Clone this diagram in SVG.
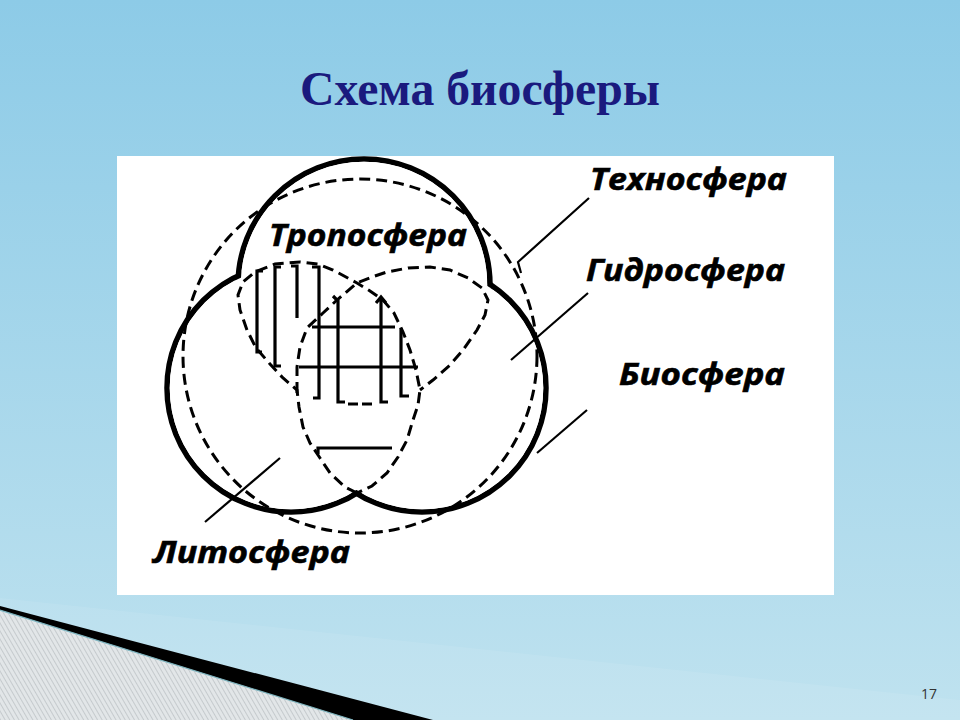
<svg xmlns="http://www.w3.org/2000/svg" width="960" height="720" viewBox="0 0 960 720">
<defs>
<linearGradient id="bg" x1="0" y1="0" x2="0" y2="1">
<stop offset="0" stop-color="#8dcbe7"/>
<stop offset="1" stop-color="#bfe2ef"/>
</linearGradient>
<pattern id="hatch" width="4" height="4" patternUnits="userSpaceOnUse" patternTransform="rotate(-30)">
<rect width="4" height="4" fill="#e2e6e8"/>
<line x1="0" y1="0" x2="0" y2="4" stroke="#a9afb3" stroke-width="1"/>
</pattern>
<style>
.thick{fill:none;stroke:#000;stroke-width:5.5}
.wfill{fill:#fff;stroke:none}
.dash{fill:none;stroke:#000;stroke-width:3;stroke-dasharray:11 6}
.grid{fill:none;stroke:#000;stroke-width:3.2}
.lead{fill:none;stroke:#000;stroke-width:2.2}
.lbl{font-family:"Open Sans",Roboto,"Liberation Sans",sans-serif;font-style:italic;font-weight:bold;font-size:30px;fill:#000;stroke:#000;stroke-width:0.6}
</style>
</defs>
<rect width="960" height="720" fill="url(#bg)"/>
<polygon points="0,598 960,700 960,720 0,720" fill="#ffffff" opacity="0.08"/>
<polygon points="0,606 433,720 353,720 0,610" fill="#000"/>
<polygon points="0,611 353,720 0,720" fill="url(#hatch)"/>
<line x1="0" y1="610" x2="353" y2="720" stroke="#7fb3bd" stroke-width="1.2"/>
<text x="929" y="699" font-family="'Open Sans','Liberation Sans',sans-serif" font-size="14" fill="#333" text-anchor="middle">17</text>
<g id="title"><text x="480" y="105" font-family="'Liberation Serif',serif" font-weight="bold" font-size="48" fill="#1a1a7e" text-anchor="middle" textLength="360" lengthAdjust="spacingAndGlyphs">Схема биосферы</text></g>
<rect x="117" y="156" width="717" height="439" fill="#fff"/>
<g id="spheres-outline">
<circle class="thick" cx="364" cy="285" r="126"/>
<circle class="thick" cx="291" cy="388" r="124"/>
<circle class="thick" cx="422" cy="388" r="124"/>
<circle class="wfill" cx="364" cy="285" r="123.3"/>
<circle class="wfill" cx="291" cy="388" r="121.3"/>
<circle class="wfill" cx="422" cy="388" r="121.3"/>
</g>
<g id="technosphere"><circle class="dash" cx="360" cy="356" r="177"/></g>
<g id="inner-spheres">
<polyline class="dash" points="357,493 345,487 330,473 320,458 310,443 303,427 299,407 297,390 283,378 270,364 256,348 247,330 240,310 238,295 243,282 255,272 275,264 300,262 318,264 333,270 357,283 370,291 383,300 394,313 403,332 410,350 416,370 420,390 418,405 413,420 407,440 398,457 387,473 372,486 357,493"/>
<polyline class="dash" points="297,393 297,367 300,347 307,328 323,313 337,300 357,283 372,277 387,272 408,268 430,267 450,270 468,278 482,288 488,300 485,315 477,330 463,350 450,365 433,380 420,390"/>
</g>
<g id="hatching">
<path class="grid" d="M263,271 H257 V352 H262"/>
<path class="grid" d="M281,267 H275 V366 H281"/>
<path class="grid" d="M291,266 H297 V318"/>
<path class="grid" d="M312,267 H319 V398 H313"/>
<path class="grid" d="M333,296 L338,301 V402 H345"/>
<path class="grid" d="M376,303 L381,297 L386,303 M381,297 V402 H388"/>
<path class="grid" d="M401,328 V396 H409"/>
<path class="grid" d="M312,327 H395"/>
<path class="grid" d="M299,367 H418"/>
<path class="grid" d="M348,404 H358 M362,404 H372"/>
<path class="grid" d="M318,454 V448 H392"/>
</g>
<g id="connectors">
<path class="lead" d="M589,198 L518,262 L521,273"/>
<path class="lead" d="M588,293 L511,360"/>
<path class="lead" d="M587,410 L537,453"/>
<path class="lead" d="M280,458 L205,522"/>
</g>
<g id="label-techno"><text class="lbl" x="590" y="190" textLength="197" lengthAdjust="spacingAndGlyphs">Техносфера</text></g>
<g id="label-hydro"><text class="lbl" x="586" y="281" textLength="199" lengthAdjust="spacingAndGlyphs">Гидросфера</text></g>
<g id="label-bio"><text class="lbl" x="619" y="385" textLength="166" lengthAdjust="spacingAndGlyphs">Биосфера</text></g>
<g id="label-tropo"><text class="lbl" x="269" y="246" textLength="198" lengthAdjust="spacingAndGlyphs">Тропосфера</text></g>
<g id="label-litho"><text class="lbl" x="153" y="563" textLength="197" lengthAdjust="spacingAndGlyphs">Литосфера</text></g>
</svg>
